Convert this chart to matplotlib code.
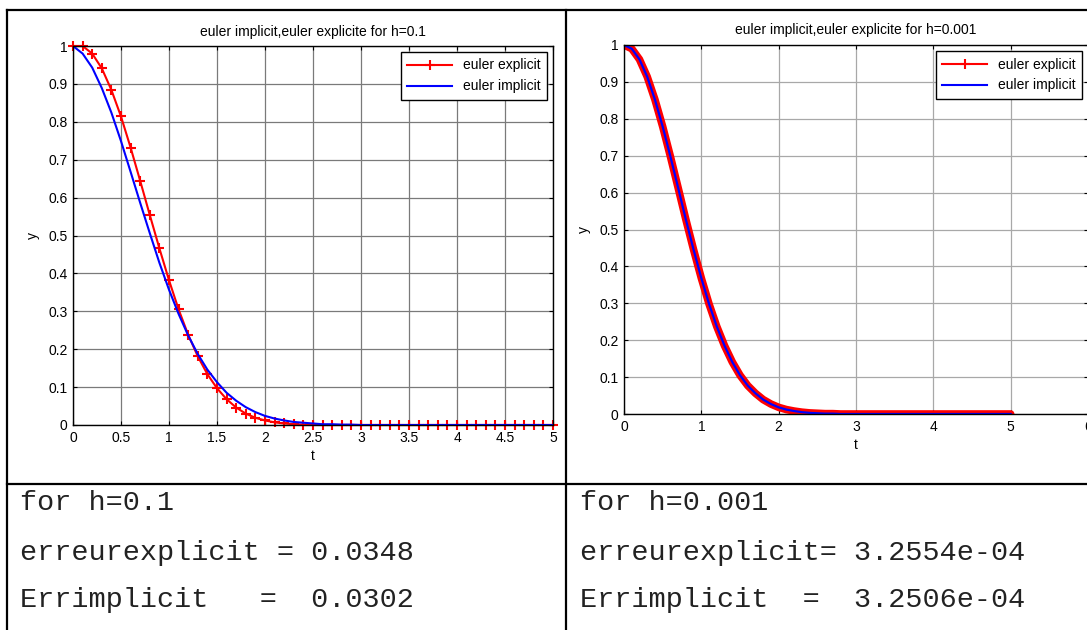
import matplotlib
matplotlib.use("Agg")
import matplotlib.pyplot as plt
from matplotlib.lines import Line2D

plt.rcParams['font.family'] = ['Liberation Sans', 'DejaVu Sans']

# ---- h = 0.1 : one value per step, t = 0 .. 5
t_coarse = [0.0, 0.1, 0.2, 0.3, 0.4, 0.5, 0.6, 0.7, 0.8, 0.9,
            1.0, 1.1, 1.2, 1.3, 1.4, 1.5, 1.6, 1.7, 1.8, 1.9,
            2.0, 2.1, 2.2, 2.3, 2.4, 2.5, 2.6, 2.7, 2.8, 2.9,
            3.0, 3.1, 3.2, 3.3, 3.4, 3.5, 3.6, 3.7, 3.8, 3.9,
            4.0, 4.1, 4.2, 4.3, 4.4, 4.5, 4.6, 4.7, 4.8, 4.9, 5.0]
y_explicit_coarse = [1.0, 1.0, 0.980, 0.941, 0.884, 0.814, 0.732, 0.644, 0.554, 0.466,
                     0.382, 0.305, 0.238, 0.181, 0.134, 0.097, 0.068, 0.046, 0.030, 0.019,
                     0.012, 0.007, 0.004, 0.002, 0.001, 0.001, 0.0, 0.0, 0.0, 0.0,
                     0.0, 0.0, 0.0, 0.0, 0.0, 0.0, 0.0, 0.0, 0.0, 0.0,
                     0.0, 0.0, 0.0, 0.0, 0.0, 0.0, 0.0, 0.0, 0.0, 0.0, 0.0]
y_implicit_coarse = [1.0, 0.980, 0.943, 0.889, 0.824, 0.749, 0.668, 0.586, 0.506, 0.428,
                     0.357, 0.293, 0.236, 0.187, 0.146, 0.113, 0.085, 0.064, 0.047, 0.034,
                     0.024, 0.017, 0.012, 0.008, 0.006, 0.004, 0.002, 0.002, 0.001, 0.001,
                     0.0, 0.0, 0.0, 0.0, 0.0, 0.0, 0.0, 0.0, 0.0, 0.0,
                     0.0, 0.0, 0.0, 0.0, 0.0, 0.0, 0.0, 0.0, 0.0, 0.0, 0.0]

# ---- h = 0.001 : values read every 0.1 on t
t_fine = t_coarse
y_explicit_fine = [1.0, 0.990, 0.961, 0.914, 0.852, 0.779, 0.698, 0.613, 0.527, 0.445,
                   0.368, 0.298, 0.237, 0.185, 0.141, 0.105, 0.077, 0.056, 0.039, 0.027,
                   0.018, 0.012, 0.008, 0.005, 0.003, 0.002, 0.001, 0.001, 0.0, 0.0,
                   0.0, 0.0, 0.0, 0.0, 0.0, 0.0, 0.0, 0.0, 0.0, 0.0,
                   0.0, 0.0, 0.0, 0.0, 0.0, 0.0, 0.0, 0.0, 0.0, 0.0, 0.0]
y_implicit_fine = [1.0, 0.990, 0.961, 0.914, 0.852, 0.779, 0.698, 0.613, 0.527, 0.445,
                   0.368, 0.298, 0.237, 0.185, 0.141, 0.105, 0.077, 0.056, 0.039, 0.027,
                   0.018, 0.012, 0.008, 0.005, 0.003, 0.002, 0.001, 0.001, 0.0, 0.0,
                   0.0, 0.0, 0.0, 0.0, 0.0, 0.0, 0.0, 0.0, 0.0, 0.0,
                   0.0, 0.0, 0.0, 0.0, 0.0, 0.0, 0.0, 0.0, 0.0, 0.0, 0.0]

xticks_left = [0, 0.5, 1, 1.5, 2, 2.5, 3, 3.5, 4, 4.5, 5]
xticklabels_left = ['0', '0.5', '1', '1.5', '2', '2.5', '3', '3.5', '4', '4.5', '5']
xticks_right = [0, 1, 2, 3, 4, 5, 6]
yticks = [0, 0.1, 0.2, 0.3, 0.4, 0.5, 0.6, 0.7, 0.8, 0.9, 1]
yticklabels = ['0', '0.1', '0.2', '0.3', '0.4', '0.5', '0.6', '0.7', '0.8', '0.9', '1']

left_lines = ['for h=0.1', 'erreurexplicit = 0.0348', 'Errimplicit   =  0.0302']
right_lines = ['for h=0.001', 'erreurexplicit= 3.2554e-04', 'Errimplicit  =  3.2506e-04']

W, H = 1087, 630
fig = plt.figure(figsize=(W / 100, H / 100), dpi=100)


def px_axes(l, t, r, b):
    return fig.add_axes([l / W, 1 - b / H, (r - l) / W, (b - t) / H])


def style(ax, gridcol):
    ax.set_yticks(yticks)
    ax.set_yticklabels(yticklabels)
    ax.set_ylim(0, 1)
    ax.tick_params(direction='in', top=True, right=True, length=3, labelsize=10, pad=4)
    ax.grid(True, color=gridcol, lw=0.9)
    ax.set_axisbelow(True)
    for s in ax.spines.values():
        s.set_linewidth(1.0)
    ax.set_xlabel('t', fontsize=10, labelpad=3)
    ax.set_ylabel('y', fontsize=10, labelpad=6)


legend_kw = dict(loc='upper right', fontsize=10, fancybox=False, edgecolor='black',
                 framealpha=1, handlelength=3.2, borderpad=0.45, labelspacing=0.5,
                 borderaxespad=0.45)

# left: h = 0.1
ax1 = px_axes(73, 46, 553, 425)
ax1.plot(t_coarse, y_explicit_coarse, color='#ff0000', lw=1.5, marker='+', ms=7, mew=1.5,
         label='euler explicit', clip_on=False)
ax1.plot(t_coarse, y_implicit_coarse, color='#0000ff', lw=1.5, label='euler implicit')
ax1.set_xlim(0, 5)
ax1.set_xticks(xticks_left)
ax1.set_xticklabels(xticklabels_left)
style(ax1, '#7a7a7a')
ax1.set_title('euler implicit,euler explicite for h=0.1', fontsize=10, pad=7)
leg = ax1.legend(**legend_kw)
leg.get_frame().set_linewidth(1.0)

# right: h = 0.001 (dense '+' markers merge into a thick red band)
ax2 = px_axes(624, 45, 1088, 414)
ax2.plot(t_fine, y_explicit_fine, color='#ff0000', lw=5.5, solid_joinstyle='round',
         solid_capstyle='round')
ax2.plot(t_fine, y_implicit_fine, color='#0000ff', lw=1.6)
ax2.set_xlim(0, 6)
ax2.set_xticks(xticks_right)
style(ax2, '#a8a8a8')
ax2.set_title('euler implicit,euler explicite for h=0.001', fontsize=10, pad=8)
handles = [Line2D([], [], color='#ff0000', lw=1.5, marker='+', ms=7, mew=1.5),
           Line2D([], [], color='#0000ff', lw=1.5)]
leg2 = ax2.legend(handles, ['euler explicit', 'euler implicit'], **legend_kw)
leg2.get_frame().set_linewidth(1.0)

# table borders
lw_tab = 1.6
for xs, ys in [((7, W), (10, 10)), ((7, 7), (10, H)), ((566, 566), (10, H)), ((7, W), (484, 484))]:
    fig.add_artist(Line2D([x / W for x in xs], [1 - y / H for y in ys],
                          color='black', lw=lw_tab, transform=fig.transFigure))

# results text under each plot
baselines = [510, 560, 607]
for txt, yb in zip(left_lines, baselines):
    fig.text(20 / W, 1 - yb / H, txt, family='Liberation Mono', fontsize=20.5,
             va='baseline', color='#222222')
for txt, yb in zip(right_lines, baselines):
    fig.text(580 / W, 1 - yb / H, txt, family='Liberation Mono', fontsize=20.5,
             va='baseline', color='#222222')

fig.savefig('out.png', dpi=100)
